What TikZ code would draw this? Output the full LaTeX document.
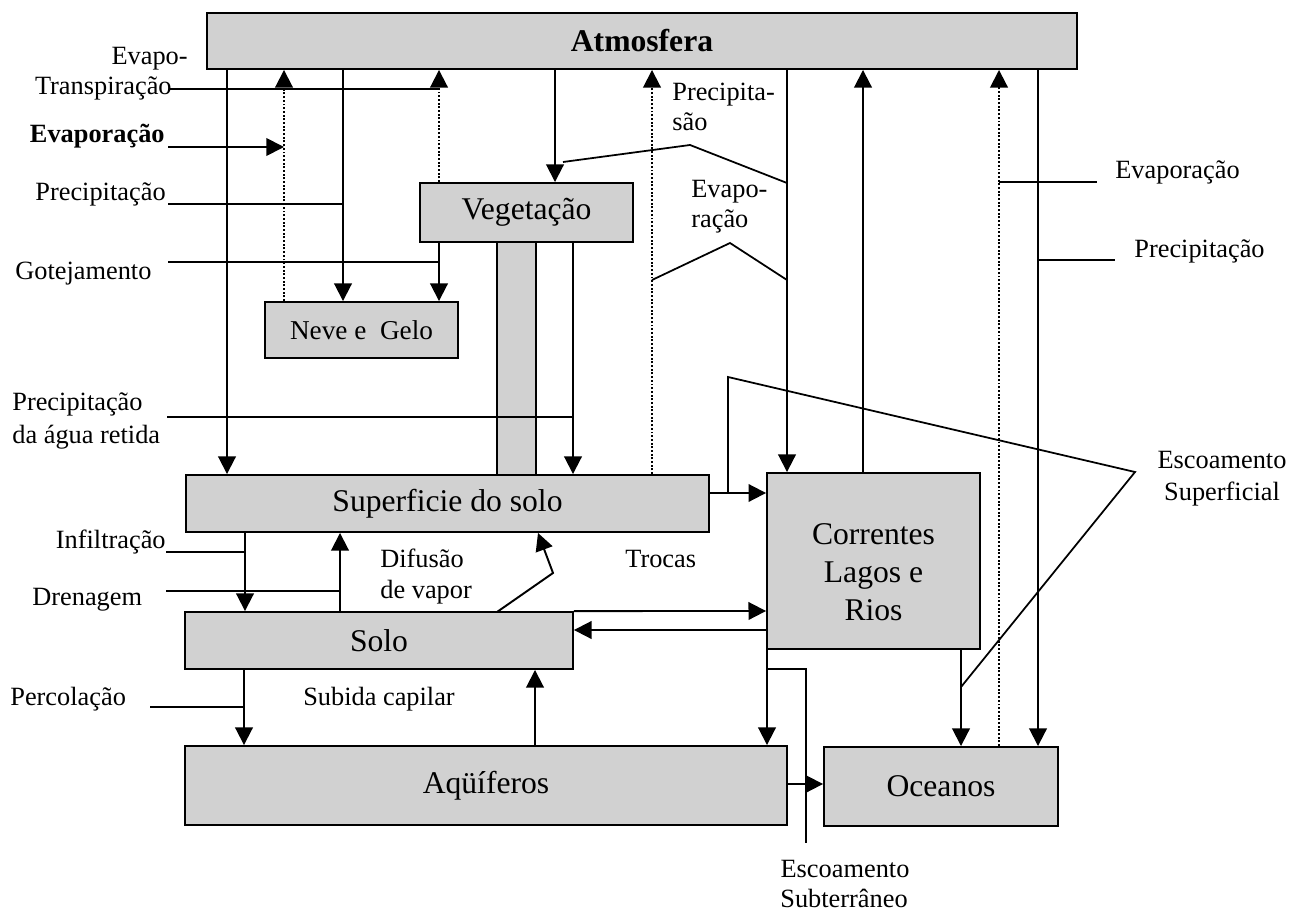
\documentclass[tikz,border=0pt]{standalone}
\usepackage{fontspec}
\setmainfont{Liberation Serif}
\usetikzlibrary{arrows.meta}
\begin{document}
\begin{tikzpicture}[x=0.02cm,y=-0.02cm,
  box/.style={draw, line width=1.1pt, fill=black!18, inner sep=0pt, align=center, font=\fontsize{18}{21.6}\selectfont},
  flow/.style={line width=1.1pt},
  arr/.style={flow, -{Triangle[length=10pt,width=10pt]}},
  darr/.style={arr, densely dotted},
  ptr/.style={line width=1pt},
  lbl/.style={inner sep=0pt, font=\fontsize{15}{18}\selectfont},
  lblb/.style={inner sep=0pt, font=\bfseries\fontsize{15}{18}\selectfont}
]
\useasboundingbox (0,0) rectangle (1293,912);

% boxes
\node[box, minimum width=0.78cm, minimum height=4.66cm] (stem) at (516.5,358.5) {};
\node[box, minimum width=17.40cm, minimum height=1.12cm] (atm) at (642,41) {\bfseries Atmosfera};
\node[box, minimum width=4.26cm, minimum height=1.18cm] (veg) at (526.5,212.5) {Vegetação};
\node[box, minimum width=3.86cm, minimum height=1.12cm, font=\fontsize{15.5}{18}\selectfont] (neve) at (361.5,330) {Neve e\ \ Gelo};
\node[box, minimum width=10.46cm, minimum height=1.14cm] (sup) at (447.5,503.5) {Superficie do solo};
\node[box, minimum width=4.26cm, minimum height=3.52cm] (cor) at (873.5,561) {};
\node[inner sep=0pt, align=center, font=\fontsize{18}{21.6}\selectfont] (corL) at (873.5,572) {Correntes\\Lagos e\\Rios};
\node[box, minimum width=7.76cm, minimum height=1.14cm] (solo) at (379,640.5) {Solo};
\node[box, minimum width=12.04cm, minimum height=1.58cm] (aq) at (486,785.5) {Aqüíferos};
\node[box, minimum width=4.68cm, minimum height=1.58cm] (oce) at (941,786.5) {Oceanos};

% columns and rows
\coordinate (cA) at (227,0);
\coordinate (cB) at (284,0);
\coordinate (cC) at (343,0);
\coordinate (cD) at (439,0);
\coordinate (cE) at (555,0);
\coordinate (cF) at (573,0);
\coordinate (cG) at (652,0);
\coordinate (cH) at (787,0);
\coordinate (cI) at (863,0);
\coordinate (cJ) at (999,0);
\coordinate (cK) at (1038,0);
\coordinate (cL) at (245,0);
\coordinate (cM) at (340,0);
\coordinate (cN) at (244,0);
\coordinate (cO) at (535,0);
\coordinate (cP) at (767,0);
\coordinate (cQ) at (961,0);
\coordinate (rA) at (0,493);
\coordinate (rB) at (0,611);
\coordinate (rC) at (0,630);
\coordinate (rD) at (0,784);

% vertical flows
\draw[arr] (atm.south -| cA) -- (sup.north -| cA);
\draw[arr] (atm.south -| cC) -- (neve.north -| cC);
\draw[darr] (neve.north -| cB) -- (atm.south -| cB);
\draw[darr] (veg.north -| cD) -- (atm.south -| cD);
\draw[arr] (veg.south -| cD) -- (neve.north -| cD);
\draw[arr] (atm.south -| cE) -- (veg.north -| cE);
\draw[arr] (veg.south -| cF) -- (sup.north -| cF);
\draw[darr] (sup.north -| cG) -- (atm.south -| cG);
\draw[arr] (atm.south -| cH) -- (cor.north -| cH);
\draw[arr] (cor.north -| cI) -- (atm.south -| cI);
\draw[darr] (oce.north -| cJ) -- (atm.south -| cJ);
\draw[arr] (atm.south -| cK) -- (oce.north -| cK);
\draw[arr] (sup.south -| cL) -- (solo.north -| cL);
\draw[arr] (solo.north -| cM) -- (sup.south -| cM);
\draw[arr] (solo.south -| cN) -- (aq.north -| cN);
\draw[arr] (aq.north -| cO) -- (solo.south -| cO);
\draw[arr] (cor.south -| cP) -- (aq.north -| cP);
\draw[arr] (cor.south -| cQ) -- (oce.north -| cQ);

% horizontal flows
\draw[arr] (sup.east |- rA) -- (cor.west |- rA);
\draw[arr] (solo.north east) -- (cor.west |- rB);
\draw[arr] (cor.west |- rC) -- (solo.east |- rC);
\draw[arr] (aq.east |- rD) -- (oce.west |- rD);

% diffusion of vapour
\coordinate (pD1) at (497,612);
\coordinate (pD2) at (553,573);
\coordinate (pD3) at (538,0);
\draw[arr] (pD1) -- (pD2) -- (sup.south -| pD3);

% label pointers
\coordinate (pT1) at (170,89);
\draw[ptr] (pT1) -- (cD |- pT1);
\coordinate (pE1) at (168,147);
\draw[arr, line width=1pt] (pE1) -- (cB |- pE1);
\coordinate (pC1) at (168,204);
\draw[ptr] (pC1) -- (cC |- pC1);
\coordinate (pG1) at (168,262);
\draw[ptr] (pG1) -- (cD |- pG1);
\coordinate (pA1) at (167,417);
\draw[ptr] (pA1) -- (cF |- pA1);
\coordinate (pI1) at (166,552);
\draw[ptr] (pI1) -- (cL |- pI1);
\coordinate (pN1) at (166,591);
\draw[ptr] (pN1) -- (cM |- pN1);
\coordinate (pO1) at (150,707);
\draw[ptr] (pO1) -- (cN |- pO1);
\coordinate (pP1) at (563,162);
\coordinate (pP2) at (690,145);
\coordinate (pP3) at (787,183);
\draw[ptr] (pP1) -- (pP2) -- (pP3);
\coordinate (pV1) at (652,280);
\coordinate (pV2) at (730,243);
\coordinate (pV3) at (787,280);
\draw[ptr] (pV1) -- (pV2) -- (pV3);
\coordinate (pS1) at (728,493);
\coordinate (pS2) at (728,377);
\coordinate (pS3) at (1135,472);
\coordinate (pS4) at (961,687);
\draw[ptr] (pS1) -- (pS2) -- (pS3) -- (pS4);
\coordinate (pU1) at (767,669);
\coordinate (pU2) at (806,669);
\coordinate (pU3) at (806,843);
\draw[ptr] (pU1) -- (pU2) -- (pU3);
\coordinate (pR1) at (999,182);
\coordinate (pR2) at (1097,182);
\draw[ptr] (pR1) -- (pR2);
\coordinate (pR3) at (1038,260);
\coordinate (pR4) at (1115,260);
\draw[ptr] (pR3) -- (pR4);

% labels
\node[lbl, anchor=base east] (lEv1) at (188,65) {Evapo-};
\node[lbl, anchor=base east] (lTr) at (172,95) {Transpiração};
\node[lblb, anchor=base east] (lEvB) at (165,143) {Evaporação};
\node[lbl, anchor=base east] (lPr) at (166,200) {Precipitação};
\node[lbl, anchor=base west] (lGo) at (15,279) {Gotejamento};
\node[lbl, anchor=base west] (lPa1) at (12,410) {Precipitação};
\node[lbl, anchor=base west] (lPa2) at (12,443) {da água retida};
\node[lbl, anchor=base east] (lIn) at (166,548) {Infiltração};
\node[lbl, anchor=base west] (lDr) at (32,605) {Drenagem};
\node[lbl, anchor=base west] (lPe) at (10,705) {Percolação};
\node[lbl, anchor=base west] (lDi1) at (380,567) {Difusão};
\node[lbl, anchor=base west] (lDi2) at (380,598) {de vapor};
\node[lbl, anchor=base west] (lTroc) at (625,567) {Trocas};
\node[lbl, anchor=base] (lSub) at (379,705) {Subida capilar};
\node[lbl, anchor=base west] (lPs1) at (672,101) {Precipita-};
\node[lbl, anchor=base west] (lPs2) at (672,131) {são};
\node[lbl, anchor=base west] (lEr1) at (691,197) {Evapo-};
\node[lbl, anchor=base west] (lEr2) at (691,227) {ração};
\node[lbl, anchor=base west] (lEvR) at (1115,178) {Evaporação};
\node[lbl, anchor=base west] (lPrR) at (1134,257) {Precipitação};
\node[lbl, anchor=base] (lEs1) at (1222,468) {Escoamento};
\node[lbl, anchor=base] (lEs2) at (1222,500) {Superficial};
\node[lbl, anchor=base] (lEu1) at (845,877) {Escoamento};
\node[lbl, anchor=base] (lEu2) at (844,907) {Subterrâneo};
\end{tikzpicture}
\end{document}
